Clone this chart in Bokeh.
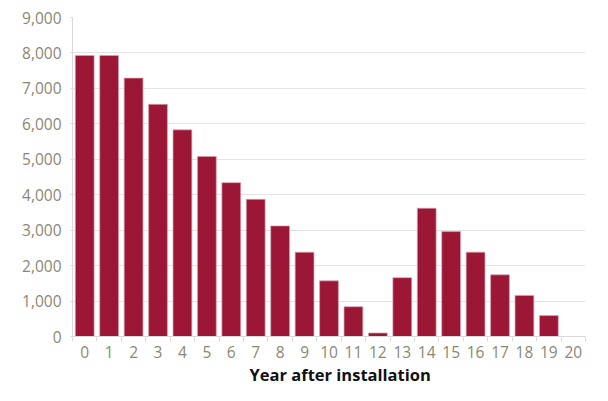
from bokeh.plotting import figure
from bokeh.models import Range1d, FixedTicker, NumeralTickFormatter, Title, ColumnDataSource
from bokeh.embed import file_html
from bokeh.resources import INLINE

years = list(range(0, 21))
values = [7930, 7930, 7290, 6550, 5830, 5080, 4340, 3870, 3120, 2380,
          1570, 840, 100, 1660, 3620, 2960, 2380, 1740, 1160, 590]
y_ticks = [0, 1000, 2000, 3000, 4000, 5000, 6000, 7000, 8000, 9000]
x_title = "Year after installation"

FONT = "Open Sans"
TICK_COLOR = "#8a8775"
BAR_COLOR = "#9b1735"

p = figure(width=592, height=385, output_backend="svg", toolbar_location=None,
           x_range=Range1d(0, len(years)), y_range=Range1d(0, 9000),
           min_border_left=72, min_border_right=7, min_border_top=17, min_border_bottom=30)
p.outline_line_color = None

centers = [y + 0.5 for y in years[:len(values)]]
src = ColumnDataSource(dict(x=centers, top=values))
p.vbar(x="x", top="top", width=0.77, bottom=0, source=src,
       fill_color=BAR_COLOR, line_color="#d9a3b0", line_width=0.7)

# x axis: labels at centres, tick marks at boundaries
xa = p.xaxis[0]
xa.ticker = FixedTicker(ticks=[y + 0.5 for y in years], minor_ticks=[float(i) for i in range(len(years) + 1)])
xa.major_label_overrides = {y + 0.5: str(y) for y in years}
xa.major_tick_line_color = None
xa.major_tick_out = 0
xa.minor_tick_out = 5
xa.minor_tick_in = 0
xa.minor_tick_line_color = "#d9d9d9"
xa.axis_line_color = "#d9d9d9"
xa.major_label_text_font = FONT
xa.major_label_text_font_size = "15.5px"
xa.major_label_text_color = TICK_COLOR
xa.major_label_standoff = 4

ya = p.yaxis[0]
ya.ticker = FixedTicker(ticks=y_ticks)
ya.formatter = NumeralTickFormatter(format="0,0")
ya.major_tick_out = 2
ya.major_tick_in = 0
ya.major_tick_line_color = "#d9d9d9"
ya.minor_tick_line_color = None
ya.axis_line_color = "#d9d9d9"
ya.major_label_text_font = FONT
ya.major_label_text_font_size = "15.5px"
ya.major_label_text_color = TICK_COLOR
ya.major_label_standoff = 9

p.xgrid.grid_line_color = None
p.ygrid.grid_line_color = "#e3e3e3"
p.ygrid.grid_line_width = 1

t = Title(text=x_title, align="left", offset=177, text_font=FONT, text_font_style="bold",
          text_font_size="16.5px", text_color="#111111", standoff=0, text_line_height=0.9)
p.add_layout(t, "below")

open("out.html", "w").write(file_html(p, INLINE))
